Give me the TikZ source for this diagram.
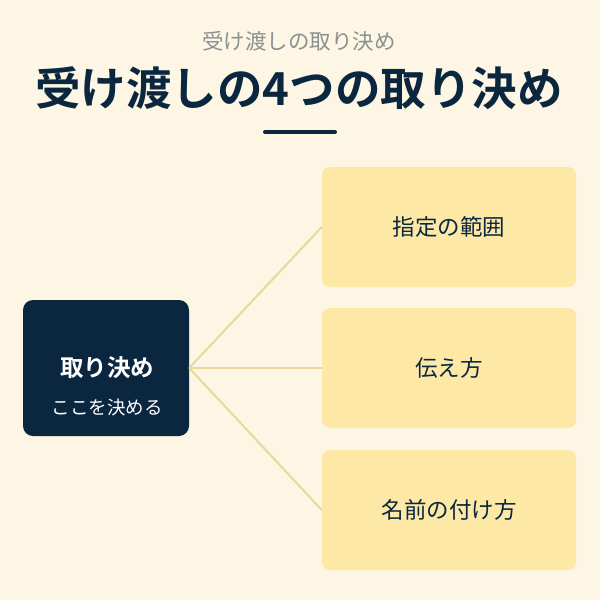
\documentclass[tikz,border=0pt]{standalone}
\usepackage{fontspec}
\newfontfamily\jp{Noto Sans CJK JP}
\newfontfamily\jpb{Noto Sans CJK JP Bold}
\definecolor{bg}{HTML}{FDF6E4}
\definecolor{navy}{HTML}{0B2740}
\definecolor{card}{HTML}{FDE8A6}
\definecolor{link}{HTML}{EAD89A}
\definecolor{subgray}{HTML}{8A9192}
\tikzset{
  card/.style={fill=card, rounded corners=8pt, minimum width=254pt, minimum height=120pt, inner sep=0pt},
  cardtext/.style={font=\jp\fontsize{22.5}{26}\selectfont, text=navy},
  hub/.style={fill=navy, rounded corners=10pt, minimum width=166pt, minimum height=136pt, inner sep=0pt},
  link/.style={draw=link, line width=2pt}
}
\begin{document}
\begin{tikzpicture}[x=1pt,y=-1pt]
\fill[bg] (0,0) rectangle (600,600);
\useasboundingbox (0,0) rectangle (600,600);
\node[font=\jp\fontsize{21.5}{24}\selectfont, text=subgray] (sub) at (299,41) {受け渡しの取り決め};
\node[font=\jpb\fontsize{45.5}{52}\selectfont, text=navy] (title) at (299,88) {受け渡しの4つの取り決め};
\coordinate (ra) at (265,132);
\coordinate (rb) at (335,132);
\draw[navy, line width=4pt, line cap=round] (ra) -- (rb);
\node[hub] (hub) at (106,368) {};
\node[font=\jpb\fontsize{23.5}{26}\selectfont, text=white] (hubt) at (107,368) {取り決め};
\node[font=\jp\fontsize{18.5}{22}\selectfont, text=white] (hubs) at (107,407) {ここを決める};
\node[card] (c1) at (449,227) {};
\node[card] (c2) at (449,368) {};
\node[card] (c3) at (449,510) {};
\draw[link] (hub.east) -- (c1.west);
\draw[link] (hub.east) -- (c2.west);
\draw[link] (hub.east) -- (c3.west);
\node[cardtext] (t1) at (c1) {指定の範囲};
\node[cardtext] (t2) at (c2) {伝え方};
\node[cardtext] (t3) at (c3) {名前の付け方};
\end{tikzpicture}
\end{document}
